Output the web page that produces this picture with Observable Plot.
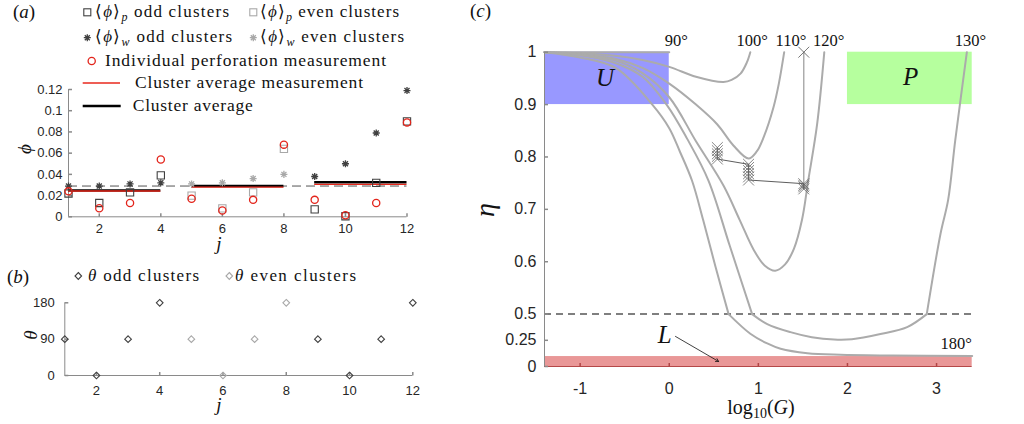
<!DOCTYPE html>
<html><head><meta charset="utf-8">
<script src="https://cdn.jsdelivr.net/npm/d3@7"></script>
<script src="https://cdn.jsdelivr.net/npm/@observablehq/plot@0.6"></script>
<style>
body{margin:0;background:#fff;}
#root{position:relative;width:1024px;height:424px;overflow:hidden;background:#fff;}
#root svg{position:absolute;left:0;top:0;}
.serif{font-family:'Liberation Serif','Times New Roman',serif;fill:#111;}
.it{font-style:italic;}
</style></head><body><div id="root">
<svg id="overlay" width="1024" height="424" class="serif" style="z-index:5">
  <text x="13" y="18" font-size="19">(<tspan class="it">a</tspan>)</text>
  <text x="7" y="283" font-size="19">(<tspan class="it">b</tspan>)</text>
  <text x="470" y="17" font-size="19">(<tspan class="it">c</tspan>)</text>
  <rect x="83.8" y="8.8" width="7" height="7" fill="none" stroke="#404040" stroke-width="1.1"/>
  <text x="95" y="17" font-size="17" textLength="134">⟨<tspan class="it">ϕ</tspan>⟩<tspan class="it" font-size="12" dy="4">p</tspan><tspan dy="-4"> odd clusters</tspan></text>
  <rect x="249.8" y="8.8" width="7" height="7" fill="none" stroke="#a8a8a8" stroke-width="1.1"/>
  <text x="260" y="17" font-size="17" textLength="139">⟨<tspan class="it">ϕ</tspan>⟩<tspan class="it" font-size="12" dy="4">p</tspan><tspan dy="-4"> even clusters</tspan></text>
  <g stroke="#404040" stroke-width="1.3"><path d="M83.8,37.7h7M87.3,34.2v7M84.8,35.2l5,5M84.8,40.2l5,-5"/></g>
  <text x="95" y="42" font-size="17" textLength="137">⟨<tspan class="it">ϕ</tspan>⟩<tspan class="it" font-size="12" dy="4">w</tspan><tspan dy="-4"> odd clusters</tspan></text>
  <g stroke="#a8a8a8" stroke-width="1.3"><path d="M249.8,37.7h7M253.3,34.2v7M250.8,35.2l5,5M250.8,40.2l5,-5"/></g>
  <text x="260" y="42" font-size="17" textLength="144">⟨<tspan class="it">ϕ</tspan>⟩<tspan class="it" font-size="12" dy="4">w</tspan><tspan dy="-4"> even clusters</tspan></text>
  <circle cx="91.7" cy="61" r="3.6" fill="none" stroke="#e3241b" stroke-width="1.3"/>
  <text x="105" y="66" font-size="17.5" textLength="281">Individual perforation measurement</text>
  <line x1="82.7" x2="120" y1="83" y2="83" stroke="#e8291c" stroke-width="1.5"/>
  <text x="135" y="88" font-size="17.5" textLength="228">Cluster average measurement</text>
  <line x1="82.7" x2="120.7" y1="106" y2="106" stroke="#000" stroke-width="2.5"/>
  <text x="132.7" y="111" font-size="17.5" textLength="120">Cluster average</text>
  <path d="M78.3,272.5l3.3,3.5l-3.3,3.5l-3.3,-3.5z" fill="none" stroke="#404040" stroke-width="1.1"/>
  <text x="88" y="281" font-size="17" textLength="111"><tspan class="it">θ</tspan> odd clusters</text>
  <path d="M229.3,272.5l3.3,3.5l-3.3,3.5l-3.3,-3.5z" fill="none" stroke="#a8a8a8" stroke-width="1.1"/>
  <text x="235" y="281" font-size="17" textLength="121"><tspan class="it">θ</tspan> even clusters</text>
  <text x="219" y="250" font-size="19" class="it" text-anchor="middle">j</text>
  <text x="219" y="411" font-size="19" class="it" text-anchor="middle">j</text>
  <text transform="translate(31,149) rotate(-90)" font-size="19" class="it" text-anchor="middle">ϕ</text>
  <text transform="translate(37,335) rotate(-90)" font-size="19" class="it" text-anchor="middle">θ</text>
  <text transform="translate(494,210) rotate(-90)" font-size="28" class="it" text-anchor="middle">η</text>
  <text x="761" y="414" font-size="20" text-anchor="middle">log<tspan font-size="14" dy="4">10</tspan><tspan dy="-4">(</tspan><tspan class="it">G</tspan>)</text>
</svg>
</div>
<script>
// ---------- panel (a), (b) data ----------
const jIndex      = [1, 2, 3, 4, 5, 6, 7, 8, 9, 10, 11, 12];
const clusterType = ["odd","odd","odd","odd","even","even","even","even","odd","odd","odd","odd"];
const phiP        = [0.022, 0.013, 0.023, 0.039, 0.020, 0.008, 0.023, 0.064, 0.007, 0.0005, 0.032, 0.090];
const phiW        = [0.029, 0.029, 0.031, 0.032, 0.031, 0.032, 0.036, 0.040, 0.038, 0.050, 0.079, 0.119];
const phiMeasured = [0.024, 0.008, 0.013, 0.054, 0.017, 0.006, 0.016, 0.068, 0.016, 0.0015, 0.013, 0.089];
const thetaDeg    = [90, 0, 90, 180, 90, 0, 90, 180, 90, 0, 90, 180];
const clusterFrom = [1, 5, 9];
const clusterTo   = [4, 8, 12];
const clusterAverage     = [0.0248, 0.0291, 0.0326];
const clusterAverageMeas = [0.0243, 0.0280, 0.0306];
const phiReference = 0.029;
const xTicksAB = [2, 4, 6, 8, 10, 12];
const yTicksA  = [0, 0.02, 0.04, 0.06, 0.08, 0.1, 0.12];
const yTicksB  = [0, 90, 180];

// ---------- panel (c) data: [log10(G), eta] ----------
const curve90  = [[-1.4,1.0],[-0.7,1.0],[0,1.0]];
const curve100 = [[-1.4,1.0],[-1,0.998],[-0.6,0.993],[-0.3,0.985],[0,0.972],[0.3,0.953],[0.61,0.943],[0.7,0.947],[0.8,0.959],[0.87,0.98],[0.91,1.0]];
const curve110 = [[-1.4,1.0],[-1,0.996],[-0.6,0.987],[-0.3,0.97],[0,0.94],[0.3,0.9],[0.54,0.862],[0.72,0.822],[0.89,0.797],[0.98,0.81],[1.06,0.838],[1.17,0.895],[1.23,0.94],[1.29,1.0]];
const curve120 = [[-1.4,1.0],[-1,0.995],[-0.6,0.984],[-0.3,0.96],[0,0.914],[0.3,0.83],[0.61,0.745],[0.79,0.68],[0.95,0.622],[1.07,0.593],[1.19,0.583],[1.3,0.595],[1.4,0.625],[1.49,0.68],[1.56,0.755],[1.66,0.863],[1.74,1.0]];
const curve130a = [[-1.4,1.0],[-1,0.994],[-0.6,0.979],[-0.3,0.953],[-0.03,0.9],[0.2,0.835],[0.44,0.755],[0.68,0.63],[0.93,0.5]];
const curve130b = [[0.93,0.5],[1.1,0.405],[1.36,0.328],[1.6,0.28],[1.85,0.257],[2.05,0.26],[2.37,0.31],[2.67,0.376],[2.89,0.5]];
const curve130c = [[2.89,0.5],[3.045,0.654],[3.13,0.718],[3.21,0.832],[3.34,1.0]];
const curve180a = [[-1.4,1.0],[-1,0.99],[-0.6,0.97],[-0.19,0.9],[0,0.855],[0.12,0.81],[0.255,0.755],[0.38,0.68],[0.52,0.59],[0.666,0.5]];
const curve180b = [[0.666,0.5],[0.91,0.313],[1.1,0.22],[1.25,0.169],[1.55,0.127],[1.92,0.112],[2.5,0.105],[3.4,0.1]];
const optimisationPath = [[0.54,0.818],[0.54,0.812],[0.54,0.806],[0.54,0.801],[0.54,0.796],
  [0.89,0.786],[0.89,0.780],[0.89,0.774],[0.89,0.768],[0.89,0.762],[0.89,0.756],
  [1.51,0.749],[1.51,0.746],[1.51,0.743],[1.51,0.739]];
const pathToTop = [[1.51,0.739],[1.51,1.0]];
const topCross  = [[1.51,1.0]];
const regions = [
  {name:"U", x1:-1.4, x2:0,   y1:0.9, y2:1.0},
  {name:"P", x1:2,    x2:3.4, y1:0.9, y2:1.0},
  {name:"L", x1:-1.4, x2:3.4, y1:0,   y2:0.095}
];
const regionLabels = [{t:"U", x:-0.72, y:0.95},{t:"P", x:2.71, y:0.952},{t:"L", x:-0.05, y:0.305}];
const angleLabels = [
  {t:"90°", x:0.08, y:1.022},{t:"100°", x:0.93, y:1.022},{t:"110°", x:1.365, y:1.022},
  {t:"120°", x:1.79, y:1.022},{t:"130°", x:3.38, y:1.022},{t:"180°", x:3.22, y:0.22}
];
const arrowL = [{x1:0.07, y1:0.287, x2:0.554, y2:0.048}];
const xTicksC = [-1, 0, 1, 2, 3];
const yTicksC = [0, 0.25, 0.5, 0.6, 0.7, 0.8, 0.9, 1];

// ---------- helpers ----------
const W = 1024, H = 424;
const dark = "#404040", light = "#a8a8a8", axisCol = "#8a8a8a", curveCol = "#ababab";
const regionFill = {U:"#9898ff", P:"#b6ff9e", L:"#e99797"};
const serif = "'Liberation Serif','Times New Roman',serif";
const baseStyle = {background:"none", color:"#262626", fontFamily:"'Liberation Sans',Arial,sans-serif", overflow:"visible"};
const tickUp    = {draw(ctx){ctx.moveTo(0,0); ctx.lineTo(0,-3.5);}};
const tickRight = {draw(ctx){ctx.moveTo(0,0); ctx.lineTo(3.5,0);}};
const star8 = {draw(ctx,size){const r=Math.sqrt(size)*0.6, d=r*0.72;
  ctx.moveTo(-r,0);ctx.lineTo(r,0);ctx.moveTo(0,-r);ctx.lineTo(0,r);
  ctx.moveTo(-d,-d);ctx.lineTo(d,d);ctx.moveTo(-d,d);ctx.lineTo(d,-d);}};
const colOf = t => t === "odd" ? dark : light;
// eta axis of (c) is piecewise: 0..0.5 compressed (1/5 of the 0.5..1 scale)
const etaU = e => e <= 0.5 ? 0.2 * e : e - 0.4;
const etaInv = v => v <= 0.1 ? v / 0.2 : v + 0.4;

const rows = jIndex.map((j,i) => ({j, type:clusterType[i], pp:phiP[i], pw:phiW[i], pm:phiMeasured[i], th:thetaDeg[i]}));
const clusters = clusterFrom.map((s,i) => ({s, e:clusterTo[i], avg:clusterAverage[i], meas:clusterAverageMeas[i]}));
const root = document.getElementById("root");
const fmt = d => String(d);

// ---------- panel (a) ----------
const plotA = Plot.plot({
  width:W, height:H,
  marginLeft:68, marginRight:W-406.5, marginTop:89, marginBottom:H-216.3,
  x:{domain:[1,12]}, y:{domain:[0,0.12]}, color:{type:"identity"},
  style:{...baseStyle, fontSize:"13px"},
  marks:[
    Plot.ruleY([0], {x1:1, x2:12, stroke:axisCol}),
    Plot.ruleX([1], {y1:0, y2:0.12, stroke:axisCol}),
    Plot.dot(xTicksAB, {x:d=>d, y:d=>0, symbol:tickUp, stroke:axisCol, fill:"none"}),
    Plot.dot(yTicksA, {x:d=>1, y:d=>d, symbol:tickRight, stroke:axisCol, fill:"none"}),
    Plot.axisX({ticks:xTicksAB, tickSize:0, tickPadding:7, tickFormat:fmt, label:null}),
    Plot.axisY({ticks:yTicksA, tickSize:0, tickPadding:6, tickFormat:fmt, label:null}),
    Plot.ruleY([phiReference], {x1:1, x2:12, stroke:"#555", strokeWidth:1, strokeDasharray:"9,5"}),
    Plot.ruleY(clusters, {x1:"s", x2:"e", y:"avg", stroke:"#000", strokeWidth:2.6}),
    Plot.ruleY(clusters, {x1:"s", x2:"e", y:"meas", stroke:"#e8291c", strokeWidth:1.3}),
    Plot.dot(rows, {x:"j", y:"pp", symbol:"square", r:4.1, fill:"none", stroke:d=>colOf(d.type), strokeWidth:1.1}),
    Plot.dot(rows, {x:"j", y:"pw", symbol:star8, r:3.3, fill:"none", stroke:d=>colOf(d.type), strokeWidth:1.3}),
    Plot.dot(rows, {x:"j", y:"pm", symbol:"circle", r:3.6, fill:"none", stroke:"#e3241b", strokeWidth:1.3})
  ]
});
root.appendChild(plotA);

// ---------- panel (b) ----------
const plotB = Plot.plot({
  width:W, height:H,
  marginLeft:64.3, marginRight:W-412.3, marginTop:302.3, marginBottom:H-375,
  x:{domain:[1,12]}, y:{domain:[0,180]}, color:{type:"identity"},
  style:{...baseStyle, fontSize:"13px"},
  marks:[
    Plot.ruleY([0], {x1:1, x2:12, stroke:axisCol}),
    Plot.ruleX([1], {y1:0, y2:180, stroke:axisCol}),
    Plot.dot(xTicksAB, {x:d=>d, y:d=>0, symbol:tickUp, stroke:axisCol, fill:"none"}),
    Plot.dot(yTicksB, {x:d=>1, y:d=>d, symbol:tickRight, stroke:axisCol, fill:"none"}),
    Plot.axisX({ticks:xTicksAB, tickSize:0, tickPadding:10, tickFormat:fmt, label:null}),
    Plot.axisY({ticks:yTicksB, tickSize:0, tickPadding:10, tickFormat:fmt, label:null}),
    Plot.dot(rows, {x:"j", y:"th", symbol:"diamond2", r:3, fill:"none", stroke:d=>colOf(d.type), strokeWidth:1.1})
  ]
});
root.appendChild(plotB);

// ---------- panel (c) ----------
const curveSegs = [curve90, curve100, curve110, curve120, curve130a, curve130b, curve130c, curve180a, curve180b];
const P = {x:d=>d[0], y:d=>etaU(d[1])};
const plotC = Plot.plot({
  width:W, height:H,
  marginLeft:544, marginRight:W-971.7, marginTop:51.7, marginBottom:H-366,
  x:{domain:[-1.4,3.4]},
  y:{domain:[0,0.6]},
  color:{type:"identity"},
  style:{...baseStyle, fontSize:"16px"},
  marks:[
    Plot.rect(regions, {x1:"x1", x2:"x2", y1:d=>etaU(d.y1), y2:d=>etaU(d.y2), fill:d=>regionFill[d.name]}),
    Plot.ruleY([etaU(0.5)], {x1:-1.4, x2:3.4, stroke:"#555", strokeWidth:1.5, strokeDasharray:"7,5"}),
    ...curveSegs.map(seg => Plot.line(seg, {...P, stroke:curveCol, strokeWidth:2, curve:"catmull-rom"})),
    Plot.line(pathToTop, {...P, stroke:"#999", strokeWidth:1.2}),
    Plot.line(optimisationPath, {...P, stroke:"#333", strokeWidth:0.8}),
    Plot.dot(optimisationPath, {...P, symbol:"times", r:5, stroke:"#666", strokeWidth:0.8}),
    Plot.dot(topCross, {...P, symbol:"times", r:5, stroke:"#666", strokeWidth:0.9}),
    Plot.ruleY([0], {x1:-1.4, x2:3.4, stroke:"#b54848", strokeWidth:1}),
    Plot.ruleX([-1.4], {y1:0, y2:etaU(1), stroke:axisCol}),
    Plot.dot(xTicksC, {x:d=>d, y:d=>0, symbol:tickUp, stroke:"#b04545", fill:"none"}),
    Plot.dot(yTicksC, {x:d=>-1.4, y:d=>etaU(d), symbol:tickRight, stroke:axisCol, fill:"none"}),
    Plot.axisX({ticks:xTicksC, tickSize:0, tickPadding:16, tickFormat:fmt, label:null}),
    Plot.axisY({ticks:yTicksC.map(etaU), tickSize:0, tickPadding:8, tickFormat:v => String(+etaInv(v).toFixed(3)), label:null}),
    Plot.text(angleLabels, {x:"x", y:d=>etaU(d.y), text:"t", fontFamily:serif, fontSize:16.5, fill:"#111"}),
    Plot.text(regionLabels, {x:"x", y:d=>etaU(d.y), text:"t", fontFamily:serif, fontStyle:"italic", fontSize:25, fill:"#111"}),
    Plot.arrow(arrowL, {x1:"x1", y1:d=>etaU(d.y1), x2:"x2", y2:d=>etaU(d.y2), stroke:"#111", strokeWidth:0.8, headLength:6})
  ]
});
root.appendChild(plotC);
root.appendChild(document.getElementById("overlay"));
</script>
</body></html>
